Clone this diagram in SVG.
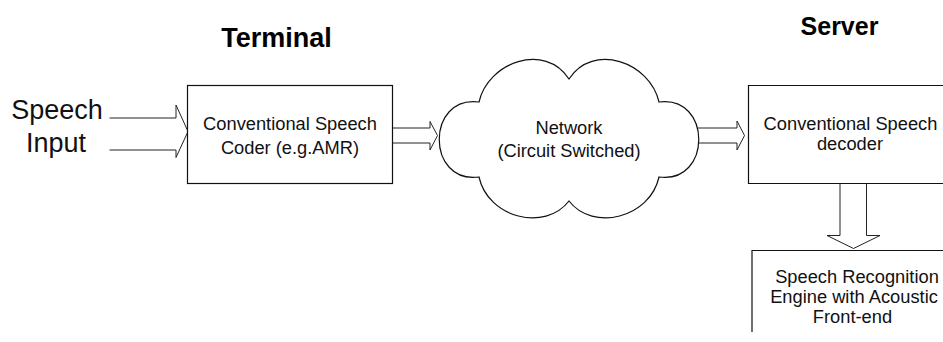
<svg xmlns="http://www.w3.org/2000/svg" width="943" height="342" viewBox="0 0 943 342">
<style>
  .ln{fill:#fff;stroke:#111;stroke-width:1.2}
  .ar{fill:#fff;stroke:#222;stroke-width:1}
  .t{font-family:"Liberation Sans",Arial,sans-serif;font-size:18.3px;fill:#111;text-anchor:middle}
  .big{font-family:"Liberation Sans",Arial,sans-serif;font-size:27px;fill:#111;text-anchor:middle}
  .h{font-family:"Liberation Sans",Arial,sans-serif;font-weight:bold;fill:#000;text-anchor:middle}
</style>
<rect width="943" height="342" fill="#fff"/>
<g id="titles">
  <text class="h" x="276.5" y="47" font-size="27">Terminal</text>
  <text class="h" x="839.5" y="35" font-size="25">Server</text>
</g>
<g id="speech-input">
  <text class="big" x="57" y="119">Speech</text>
  <text class="big" x="56" y="152">Input</text>
</g>
<g id="connectors">
  <path class="ar" d="M109.5,118 H176 V105 L188,131.5 L176,157.5 V150 H109.5"/>
  <path class="ar" d="M392,128 H430 V121.5 L437.5,135.5 L430,150 V143 H392"/>
  <path class="ar" d="M698,128 H737 V121 L744.5,135.5 L737,150 V143 H698"/>
  <path class="ar" d="M840,183 V235.5 H827 L853.5,248.5 L880,235.5 H866.5 V183"/>
</g>
<g id="terminal-coder">
  <rect class="ln" x="187.5" y="85.5" width="205" height="98"/>
  <text class="t" x="290" y="130">Conventional Speech</text>
  <text class="t" x="290" y="154">Coder (e.g.AMR)</text>
</g>
<g id="network">
  <path class="ln" d="M479,102 C488,62 545,42 569,79 C593,42 650,62 659,102 C712,95 712,184 659,177 C650,218 593,232 569,201 C545,232 488,218 479,177 C426,184 426,95 479,102 Z"/>
  <text class="t" x="569" y="134">Network</text>
  <text class="t" x="569" y="156.5">(Circuit Switched)</text>
</g>
<g id="server-decoder">
  <path class="ln" d="M950,85.5 H748.5 V183.5 H950"/>
  <text class="t" x="850.5" y="130">Conventional Speech</text>
  <text class="t" x="850" y="150">decoder</text>
</g>
<g id="recognition-engine">
  <path class="ln" d="M752,332 V250.5 H950"/>
  <text class="t" x="857" y="282.5">Speech Recognition</text>
  <text class="t" x="854" y="302.5">Engine with Acoustic</text>
  <text class="t" x="852.5" y="323">Front-end</text>
</g>
</svg>
